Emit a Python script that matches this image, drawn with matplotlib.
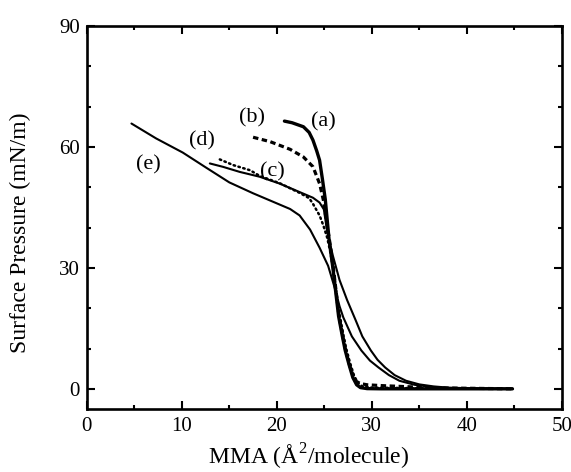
import matplotlib
matplotlib.use("Agg")
import matplotlib.pyplot as plt
from matplotlib.ticker import MultipleLocator

plt.rcParams['font.family'] = ['Liberation Serif', 'DejaVu Serif']
plt.rcParams['mathtext.fontset'] = 'custom'
plt.rcParams['mathtext.rm'] = 'Liberation Serif'

# curve (a): thick solid
a_x = [20.8, 21.6, 22.8, 23.4, 23.8, 24.2, 24.5, 24.8, 25.1, 25.5, 25.9, 26.2, 26.5, 26.9, 27.2, 27.6, 28.0, 28.4, 28.8, 29.5, 31.0, 35.0, 40.0, 44.8]
a_y = [66.4, 66.0, 65.0, 63.6, 61.7, 59.0, 56.7, 52.0, 47.0, 37.0, 30.0, 24.0, 18.0, 13.0, 9.5, 6.0, 2.8, 1.0, 0.3, 0.05, 0.0, 0.0, 0.0, 0.0]

# curve (b): thick dashed
b_x = [17.5, 19.3, 21.4, 22.8, 23.8, 24.5, 24.9, 25.2, 25.6, 25.95, 26.25, 26.55, 26.95, 27.25, 27.65, 28.05, 28.4, 28.8, 29.5, 31.0, 33.0, 35.0, 38.0, 44.8]
b_y = [62.4, 61.3, 59.4, 57.5, 55.1, 50.9, 46.8, 42.0, 36.0, 30.0, 24.0, 18.0, 13.0, 9.5, 6.0, 3.0, 1.8, 1.3, 1.0, 0.8, 0.6, 0.4, 0.2, 0.0]

# curve (c): thin solid
c_x = [12.95, 14.35, 16.1, 18.2, 20.3, 22.4, 23.8, 24.5, 24.95, 25.3, 25.9, 26.6, 27.4, 28.3, 29.0, 29.9, 30.6, 31.4, 32.4, 33.6, 35.0, 36.5, 38.0, 41.0, 44.8]
c_y = [55.9, 55.05, 53.8, 52.6, 50.9, 48.8, 47.4, 46.2, 44.5, 39.0, 33.0, 27.0, 22.0, 17.0, 13.0, 9.5, 7.2, 5.3, 3.4, 2.0, 1.1, 0.6, 0.3, 0.1, 0.0]

# curve (d): dotted
d_x = [14.0, 15.4, 17.2, 18.2, 20.3, 22.4, 23.4, 23.8, 24.5, 24.9, 25.3, 25.6, 26.0, 26.3, 26.6, 27.0, 27.3, 27.7, 28.1, 28.5, 29.0, 30.0, 33.0, 38.0, 44.8]
d_y = [56.9, 55.5, 54.2, 52.8, 51.0, 48.6, 47.3, 45.9, 43.0, 40.5, 37.5, 34.3, 29.0, 23.5, 18.5, 13.5, 10.0, 6.5, 3.5, 1.5, 0.6, 0.3, 0.2, 0.1, 0.0]

# curve (e): thin solid
e_x = [4.7, 7.3, 10.1, 12.6, 15.0, 17.5, 20.0, 21.4, 22.4, 23.5, 24.5, 25.4, 26.1, 26.6, 27.0, 27.9, 28.9, 29.8, 30.7, 31.8, 32.9, 34.5, 36.5, 39.0, 44.8]
e_y = [65.8, 62.1, 58.6, 54.8, 51.2, 48.5, 46.0, 44.6, 43.0, 39.5, 35.0, 30.5, 25.0, 20.5, 17.7, 13.0, 9.5, 7.0, 5.3, 3.4, 2.0, 1.0, 0.4, 0.1, 0.0]

labels = ['(a)', '(b)', '(c)', '(d)', '(e)']
label_x = [24.95, 17.4, 19.5, 12.1, 6.45]
label_y = [66.2, 67.3, 53.8, 61.5, 55.5]

x_ticks = [0, 10, 20, 30, 40, 50]
y_ticks = [0, 30, 60, 90]

fig = plt.figure(figsize=(5.71, 4.72), dpi=100)
ax = fig.add_axes([0.152, 0.1335, 0.832, 0.8115])

ax.plot(e_x, e_y, color='black', lw=1.5, solid_capstyle='round')
ax.plot(c_x, c_y, color='black', lw=1.5, solid_capstyle='round')
ax.plot(d_x, d_y, color='black', lw=1.8, linestyle=(0, (0.6, 1.4)), dash_capstyle='round')
ax.plot(b_x, b_y, color='black', lw=2.3, linestyle=(0, (1.7, 1.1)))
ax.plot(a_x, a_y, color='black', lw=2.4, solid_capstyle='round')

for t, x, y in zip(labels, label_x, label_y):
    ax.text(x, y, t, fontsize=16, ha='center', va='center')

ax.set_xlim(0, 50)
ax.set_ylim(-5, 90)
ax.set_xticks(x_ticks)
ax.set_yticks(y_ticks)
ax.xaxis.set_minor_locator(MultipleLocator(5))
ax.yaxis.set_minor_locator(MultipleLocator(10))
ax.tick_params(which='both', direction='in', top=True, right=True, width=1.5, labelsize=15)
ax.tick_params(which='major', length=6)
ax.tick_params(which='minor', length=3)
ax.tick_params(axis='x', pad=6)
ax.tick_params(axis='y', pad=5)
for s in ax.spines.values():
    s.set_linewidth(1.9)

xl = ax.set_xlabel('MMA (Å$^{\\mathrm{2}}$/molecule)', fontsize=17)
ax.xaxis.set_label_coords(0.467, -0.1455)
xl.set_va('baseline')
yl = ax.set_ylabel('Surface Pressure (mN/m)', fontsize=17)
ax.yaxis.set_label_coords(-0.139, 0.46)
yl.set_va('center')

fig.savefig('out.png', dpi=100)
